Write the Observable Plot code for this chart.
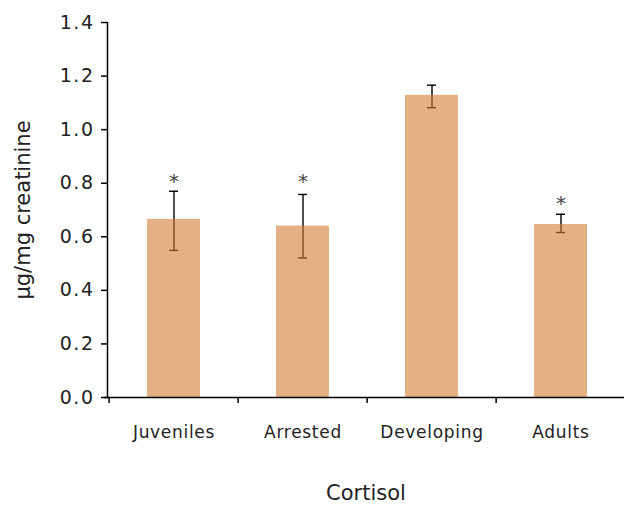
<!DOCTYPE html>
<html>
<head>
<meta charset="utf-8">
<script src="https://cdn.jsdelivr.net/npm/d3@7"></script>
<script src="https://cdn.jsdelivr.net/npm/@observablehq/plot@0.6"></script>
<style>
  html, body { margin: 0; padding: 0; background: #fff; }
  svg [aria-label="x-axis tick label"] { letter-spacing: 0.7px; }
  svg [aria-label="y-axis tick label"] { letter-spacing: 1.5px; }
</style>
</head>
<body>
<div id="chart"></div>
<script>
const categories = ["Juveniles", "Arrested", "Developing", "Adults"];
const means   = [0.665, 0.640, 1.128, 0.646];
const errLow  = [0.549, 0.521, 1.082, 0.616];
const errHigh = [0.770, 0.758, 1.166, 0.684];
const starAt  = [0.810, 0.810, null, 0.729];
const yTicks  = [0, 0.2, 0.4, 0.6, 0.8, 1.0, 1.2, 1.4];
const yTitle  = "μg/mg creatinine";
const xTitle  = "Cortisol";

const rows = categories.map((c, i) => ({cat: c, mean: means[i], lo: errLow[i], hi: errHigh[i], star: starAt[i]}));

const xRange = [107, 626];
const step = (xRange[1] - xRange[0]) / categories.length;
const ink = "#000";

const chart = Plot.plot({
  width: 624,
  height: 508,
  marginLeft: 107,
  marginTop: 22,
  marginBottom: 111,
  marginRight: 0,
  style: {fontFamily: "'DejaVu Sans', Verdana, sans-serif", color: "#222", background: "#fff"},
  x: {domain: categories, range: xRange, paddingInner: 0.59, paddingOuter: 0.295, label: null},
  y: {domain: [0, 1.4], label: null},
  marks: [
    Plot.ruleX(rows, {x: "cat", y1: "lo", y2: "hi", stroke: ink, strokeWidth: 1.4}),
    Plot.tickY(rows, {x: "cat", y: "lo", stroke: ink, strokeWidth: 1.4, insetLeft: 22, insetRight: 22}),
    Plot.tickY(rows, {x: "cat", y: "hi", stroke: ink, strokeWidth: 1.4, insetLeft: 22, insetRight: 22}),
    Plot.barY(rows, {x: "cat", y: "mean", fill: "rgb(210,125,52)", fillOpacity: 0.6}),
    Plot.text(rows.filter(d => d.star != null), {x: "cat", y: "star", text: () => "*", fontSize: 20, fill: "#444", dy: 1}),
    Plot.ruleY([0], {stroke: ink, strokeWidth: 1.5, insetLeft: -3}),
    Plot.frame({anchor: "left", stroke: ink, strokeWidth: 1.5}),
    Plot.axisY({ticks: yTicks, tickSize: 6, tickPadding: 7, tickFormat: d3.format(".1f"), fontSize: 19, label: null, stroke: ink, strokeWidth: 1.5}),
    Plot.axisX({tickSize: 6, tickFormat: () => "", dx: -step / 2, label: null, stroke: ink, strokeWidth: 1.5}),
    Plot.axisX({tickSize: 0, tickPadding: 28, fontSize: 17, label: null}),
    Plot.text([xTitle], {frameAnchor: "bottom", dy: 102, fontSize: 21}),
    Plot.text([yTitle], {frameAnchor: "left", dx: -84, rotate: -90, textAnchor: "middle", fontSize: 21})
  ]
});
document.getElementById("chart").append(chart);
</script>
</body>
</html>
